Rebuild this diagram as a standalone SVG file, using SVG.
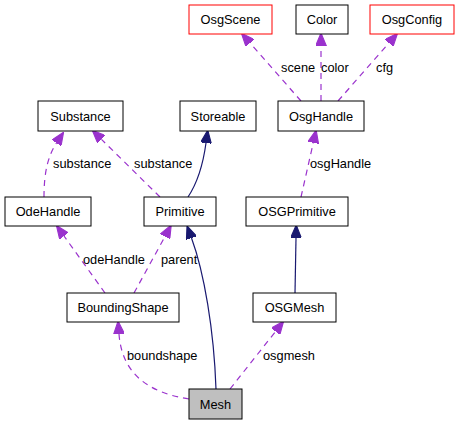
<svg xmlns="http://www.w3.org/2000/svg" width="459" height="424" viewBox="0 0 459 424">
<style>
.box{fill:#fff;stroke:#000;stroke-width:1}
.red{stroke:#ff0000}
.cur{fill:#bfbfbf}
.nt{font-family:"Liberation Sans",Arial,sans-serif;font-size:12.8px;text-anchor:middle;fill:#000}
.lb{font-family:"Liberation Sans",Arial,sans-serif;font-size:12.8px;fill:#000}
.inh{fill:none;stroke:#191970;stroke-width:1.2}
.use{fill:none;stroke:#9a32cd;stroke-width:1.2;stroke-dasharray:6,5}
</style>
<defs>
<marker id="ah" markerUnits="userSpaceOnUse" markerWidth="13" markerHeight="11" refX="0" refY="5" orient="auto" viewBox="0 0 12 10">
<path d="M0,0 L12,5 L0,10 z" fill="#191970" stroke="#191970"/>
</marker>
<marker id="ap" markerUnits="userSpaceOnUse" markerWidth="13" markerHeight="11" refX="0" refY="5" orient="auto" viewBox="0 0 12 10">
<path d="M0,0 L12,5 L0,10 z" fill="#9a32cd" stroke="#9a32cd"/>
</marker>
</defs>
<rect width="459" height="424" fill="#fff"/>
<g id="edges">
<path class="use" d="M44,197 C44,172 48,156 56.5,143" marker-end="url(#ap)"/>
<path class="use" d="M160,197 L101.5,139.4" marker-end="url(#ap)"/>
<path class="inh" d="M188,197 C196,185 203,165 206,143" marker-end="url(#ah)"/>
<path class="use" d="M301,101 L250,43" marker-end="url(#ap)"/>
<path class="use" d="M321,101 L321,46" marker-end="url(#ap)"/>
<path class="use" d="M338,101 L389,43" marker-end="url(#ap)"/>
<path class="use" d="M301,197 L313.3,142.7" marker-end="url(#ap)"/>
<path class="inh" d="M295,293 L296,238" marker-end="url(#ah)"/>
<path class="use" d="M105,293 L64,236" marker-end="url(#ap)"/>
<path class="use" d="M134,293 L165,236.5" marker-end="url(#ap)"/>
<path class="inh" d="M216,389 C214,330 204,272 191.5,238" marker-end="url(#ah)"/>
<path class="use" d="M189,399 C150,393 122,375 119,334" marker-end="url(#ap)"/>
<path class="use" d="M230,389 L275.6,331.4" marker-end="url(#ap)"/>
<text class="lb" x="53" y="167.5">substance</text>
<text class="lb" x="134" y="167.5">substance</text>
<text class="lb" x="281" y="71.5">scene</text>
<text class="lb" x="321" y="71.5">color</text>
<text class="lb" x="376" y="71.5">cfg</text>
<text class="lb" x="310" y="167.5">osgHandle</text>
<text class="lb" x="83" y="263.5">odeHandle</text>
<text class="lb" x="161" y="263.5">parent</text>
<text class="lb" x="127" y="359.5">boundshape</text>
<text class="lb" x="263" y="359.5">osgmesh</text>
</g>
<g id="OsgScene"><rect class="box red" x="189" y="5" width="83" height="29"/><text class="nt" x="230.5" y="24">OsgScene</text></g>
<g id="Color"><rect class="box" x="296" y="5" width="52" height="29"/><text class="nt" x="322" y="24">Color</text></g>
<g id="OsgConfig"><rect class="box red" x="370" y="5" width="84" height="29"/><text class="nt" x="412" y="24">OsgConfig</text></g>
<g id="Substance"><rect class="box" x="38" y="101" width="85" height="30"/><text class="nt" x="80.5" y="120.5">Substance</text></g>
<g id="Storeable"><rect class="box" x="180" y="101" width="76" height="30"/><text class="nt" x="218" y="120.5">Storeable</text></g>
<g id="OsgHandle"><rect class="box" x="278" y="101" width="86" height="30"/><text class="nt" x="321" y="120.5">OsgHandle</text></g>
<g id="OdeHandle"><rect class="box" x="5" y="197" width="86" height="29"/><text class="nt" x="48" y="216">OdeHandle</text></g>
<g id="Primitive"><rect class="box" x="144" y="197" width="72" height="29"/><text class="nt" x="180" y="216">Primitive</text></g>
<g id="OSGPrimitive"><rect class="box" x="246" y="197" width="102" height="29"/><text class="nt" x="297" y="216">OSGPrimitive</text></g>
<g id="BoundingShape"><rect class="box" x="67" y="293" width="112" height="29"/><text class="nt" x="123" y="312">BoundingShape</text></g>
<g id="OSGMesh"><rect class="box" x="253" y="293" width="83" height="29"/><text class="nt" x="294.5" y="312">OSGMesh</text></g>
<g id="Mesh"><rect class="box cur" x="189" y="389" width="53" height="30"/><text class="nt" x="215.5" y="408.5">Mesh</text></g>
</svg>
